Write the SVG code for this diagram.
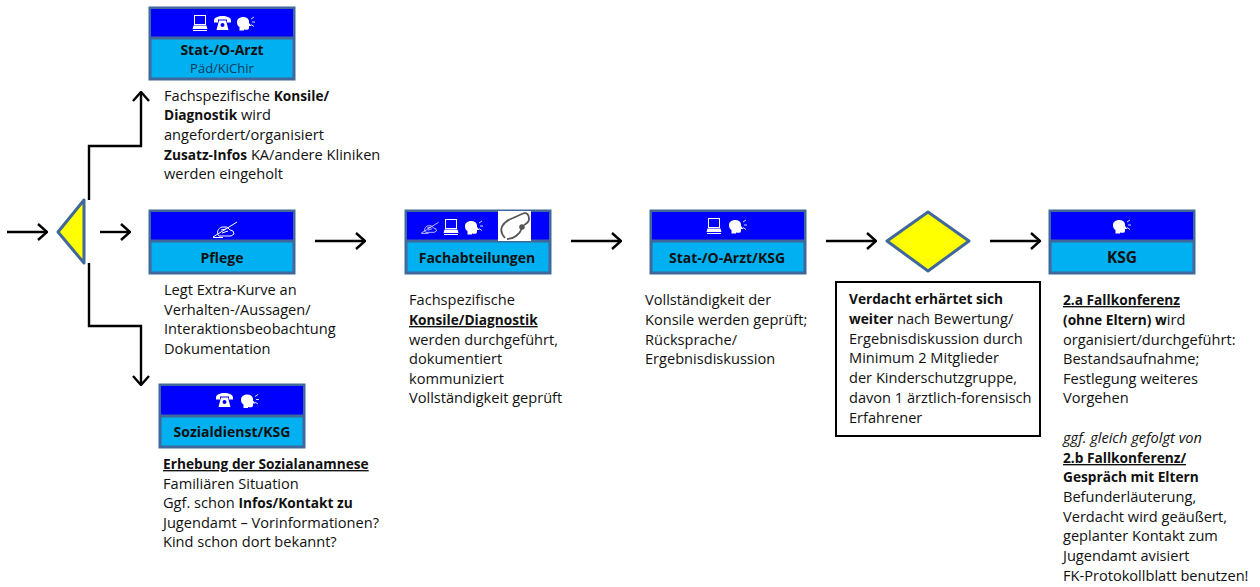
<svg xmlns="http://www.w3.org/2000/svg" width="1260" height="587" viewBox="0 0 1260 587">
<style>
text{font-family:"Open Sans","Noto Sans","Liberation Sans",sans-serif;fill:#111}
.t{font-size:14.6px}
.b{font-weight:700;font-size:13.7px}
.u{text-decoration:underline}
.i{font-style:italic}
.h{font-size:14px;font-weight:700;text-anchor:middle}
.box{fill:#00b0f0;stroke:#41689a;stroke-width:3}
.top{fill:#0000ff}
.div{stroke:#41689a;stroke-width:3}
.c{fill:none;stroke:#000;stroke-width:2.4}
.w{fill:#fff}
.wl{fill:none;stroke:#fff;stroke-width:1}
.dec{fill:#ffff00;stroke:#41689a;stroke-width:3;stroke-linejoin:round}
</style>
<defs>
<marker id="a" viewBox="0 0 12 18" refX="11" refY="9" markerWidth="12" markerHeight="18" markerUnits="userSpaceOnUse" orient="auto"><path d="M2 1L11 9L2 17" fill="none" stroke="#000" stroke-width="2.400"/></marker>
<g id="pc"><rect x="-5.500" y="-7.500" width="11" height="9" class="wl"/><path d="M-7.500 6H7.500L6.500 2.500H-6.500Z" class="w"/><path d="M-7 7.500H7" class="wl"/></g>
<g id="ph"><path d="M-8.500-2.500C-8.500-8.500 8.500-8.500 8.500-2.500L8.500-.5H4.500V-3.500H-4.500V-.5H-8.500Z" class="w"/><path d="M-6 7L-3.500-2.500H3.500L6 7Z" class="w"/><circle cx="0" cy="2" r="2" fill="#0000ff"/></g>
<g id="sp"><path d="M-8-1C-8-7 3-8 4-2L4 0L6.500 3H4V5C4 7 1 7-1 6.500L-1 7.500H-5.500L-5.500 4C-7 3-8 2-8-1Z" class="w"/><path d="M6-4L9-6M7-1H10M6 1.500L9 3.500" stroke="#cde" stroke-width="1" fill="none"/></g>
<g id="pn"><path d="M-12 7L12-8M-6 6C-9 3-7-2-3-3L2-3L5 0L8 1L9 4L6 6H-6M-3 3L3 1M-4 0L1-1" class="wl"/><path d="M-12 7.500H-2" class="wl"/></g>
</defs>

<g id="connectors">
<path class="c" marker-end="url(#a)" d="M7 232H47"/>
<path class="c" marker-end="url(#a)" d="M100 232H130"/>
<path class="c" marker-end="url(#a)" d="M89 200V146H141V92"/>
<path class="c" marker-end="url(#a)" d="M89 263V326H141V385"/>
<path class="c" marker-end="url(#a)" d="M315 241H365"/>
<path class="c" marker-end="url(#a)" d="M571 241H621"/>
<path class="c" marker-end="url(#a)" d="M826 241H876"/>
<path class="c" marker-end="url(#a)" d="M990 241H1040"/>
</g>

<g id="decision1"><path class="dec" d="M84 200V263L58 232Z"/></g>
<g id="decision2"><path class="dec" d="M928 212L969 241L928 271L887 241Z"/></g>

<g id="node-stat">
<rect class="box" x="150" y="8" width="144" height="71"/><rect class="top" x="151" y="9" width="142" height="28"/><path class="div" d="M150 38H294"/>
<use href="#pc" x="200" y="23"/><use href="#ph" x="222.500" y="23"/><use href="#sp" x="245" y="23"/>
<text class="h" x="222" y="55">Stat-/O-Arzt</text>
<text x="222" y="73" font-size="13" text-anchor="middle" style="fill:#0b3a5a">Päd/KiChir</text>
</g>
<g id="text-stat">
<text class="t" x="164" y="101">Fachspezifische <tspan class="b">Konsile/</tspan></text>
<text class="t" x="164" y="120"><tspan class="b">Diagnostik</tspan> wird</text>
<text class="t" x="164" y="140">angefordert/organisiert</text>
<text class="t" x="164" y="160"><tspan class="b">Zusatz-Infos</tspan> KA/andere Kliniken</text>
<text class="t" x="164" y="179">werden eingeholt</text>
</g>

<g id="node-pflege">
<rect class="box" x="150" y="211" width="144" height="62"/><rect class="top" x="151" y="212" width="142" height="29"/><path class="div" d="M150 241H294"/>
<use href="#pn" x="225" y="230"/>
<text class="h" x="222" y="263">Pflege</text>
</g>
<g id="text-pflege">
<text class="t" x="164" y="295">Legt Extra-Kurve an</text>
<text class="t" x="164" y="315">Verhalten-/Aussagen/</text>
<text class="t" x="164" y="334">Interaktionsbeobachtung</text>
<text class="t" x="164" y="354">Dokumentation</text>
</g>

<g id="node-sozial">
<rect class="box" x="160" y="385" width="144" height="62"/><rect class="top" x="161" y="386" width="142" height="29"/><path class="div" d="M160 416H304"/>
<use href="#ph" x="224.500" y="400"/><use href="#sp" x="249" y="400.500"/>
<text class="h" x="232" y="437">Sozialdienst/KSG</text>
</g>
<g id="text-sozial">
<text class="t b u" x="163" y="469">Erhebung der Sozialanamnese</text>
<text class="t" x="163" y="489">Familiären Situation</text>
<text class="t" x="163" y="508">Ggf. schon <tspan class="b">Infos/Kontakt zu</tspan></text>
<text class="t" x="163" y="528">Jugendamt – Vorinformationen?</text>
<text class="t" x="163" y="547">Kind schon dort bekannt?</text>
</g>

<g id="node-fach">
<rect class="box" x="406" y="211" width="144" height="62"/><rect class="top" x="407" y="212" width="142" height="29"/><path class="div" d="M406 241H550"/>
<use href="#pn" transform="translate(430 228) scale(.72)"/><use href="#pc" x="451" y="227"/><use href="#sp" x="473" y="227"/>
<rect x="498" y="211" width="33" height="30" fill="#fff"/>
<path d="M505 238C497 229 503 222 513 218L523 213.500M507 239C514 239 520 234 522 228M523 213.500C527 212 529 215 529 219C529 222 526 224 524 225" fill="none" stroke="#555" stroke-width="1.800"/><circle cx="522" cy="227" r="2.800" fill="#555"/>
<text class="h" x="477" y="263">Fachabteilungen</text>
</g>
<g id="text-fach">
<text class="t" x="409" y="305">Fachspezifische</text>
<text class="t b u" x="409" y="325">Konsile/Diagnostik</text>
<text class="t" x="409" y="345">werden durchgeführt,</text>
<text class="t" x="409" y="364">dokumentiert</text>
<text class="t" x="409" y="384">kommuniziert</text>
<text class="t" x="409" y="403">Vollständigkeit geprüft</text>
</g>

<g id="node-statksg">
<rect class="box" x="651" y="211" width="154" height="62"/><rect class="top" x="652" y="212" width="152" height="29"/><path class="div" d="M651 241H805"/>
<use href="#pc" x="714" y="226"/><use href="#sp" x="737" y="226"/>
<text class="h" x="727" y="263">Stat-/O-Arzt/KSG</text>
</g>
<g id="text-statksg">
<text class="t" x="645" y="305">Vollständigkeit der</text>
<text class="t" x="645" y="325">Konsile werden geprüft;</text>
<text class="t" x="645" y="345">Rücksprache/</text>
<text class="t" x="645" y="364">Ergebnisdiskussion</text>
</g>

<g id="note">
<rect x="836" y="282" width="204" height="154" fill="#fff" stroke="#000" stroke-width="2"/>
<text class="t b" x="849" y="304">Verdacht erhärtet sich</text>
<text class="t" x="849" y="324"><tspan class="b">weiter</tspan> nach Bewertung/</text>
<text class="t" x="849" y="344">Ergebnisdiskussion durch</text>
<text class="t" x="849" y="363">Minimum 2 Mitglieder</text>
<text class="t" x="849" y="383">der Kinderschutzgruppe,</text>
<text class="t" x="849" y="403">davon 1 ärztlich-forensisch</text>
<text class="t" x="849" y="423">Erfahrener</text>
</g>

<g id="node-ksg">
<rect class="box" x="1050" y="211" width="144" height="62"/><rect class="top" x="1051" y="212" width="142" height="29"/><path class="div" d="M1050 241H1194"/>
<use href="#sp" x="1121" y="226"/>
<text class="h" x="1122" y="263" style="font-size:15.500px">KSG</text>
</g>
<g id="text-ksg">
<text class="t b u" x="1063" y="305">2.a Fallkonferenz</text>
<text class="t" x="1063" y="325"><tspan class="b">(ohne Eltern) w</tspan>ird</text>
<text class="t" x="1063" y="345">organisiert/durchgeführt:</text>
<text class="t" x="1063" y="364">Bestandsaufnahme;</text>
<text class="t" x="1063" y="384">Festlegung weiteres</text>
<text class="t" x="1063" y="403">Vorgehen</text>
<text class="t i" x="1063" y="443">ggf. gleich gefolgt von</text>
<text class="t b u" x="1063" y="463">2.b Fallkonferenz/</text>
<text class="t b" x="1063" y="482">Gespräch mit Eltern</text>
<text class="t" x="1063" y="502">Befunderläuterung,</text>
<text class="t" x="1063" y="522">Verdacht wird geäußert,</text>
<text class="t" x="1063" y="541">geplanter Kontakt zum</text>
<text class="t" x="1063" y="561">Jugendamt avisiert</text>
<text class="t" x="1063" y="581">FK-Protokollblatt benutzen!</text>
</g>
</svg>
